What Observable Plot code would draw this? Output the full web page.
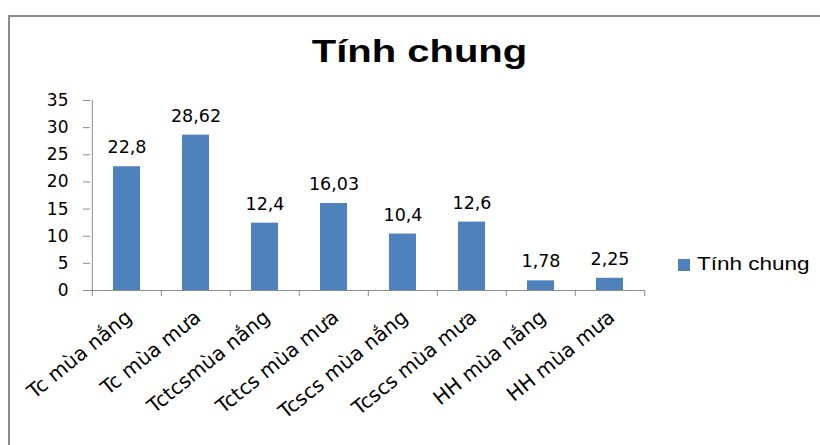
<!DOCTYPE html>
<html>
<head>
<meta charset="utf-8">
<script src="https://cdn.jsdelivr.net/npm/d3@7"></script>
<script src="https://cdn.jsdelivr.net/npm/@observablehq/plot@0.6"></script>
<style>
  html, body { margin: 0; padding: 0; background: #fff; }
  body { width: 820px; height: 445px; overflow: hidden; position: relative; font-family: "Liberation Sans", Arial, sans-serif; }
  #chart { position: absolute; left: 0; top: 0; }
  #frame { position: absolute; left: 8px; top: 15px; width: 900px; height: 500px; border: 2px solid #8c8c8c; box-sizing: border-box; pointer-events: none; }
  #title { position: absolute; left: 0; width: 839px; top: 36px; text-align: center; font-weight: bold; font-size: 31px; line-height: 31px; transform: scaleX(1.29); color: #000; white-space: nowrap; }
  #legend { position: absolute; left: 678px; top: 255px; height: 18px; white-space: nowrap; }
  #legend .sw { position: absolute; left: 0; top: 4px; width: 12px; height: 12px; background: #4F81BD; }
  #legend .lb { position: absolute; left: 19px; top: 0; font-size: 18px; line-height: 18px; transform: scaleX(1.25); transform-origin: left center; color: #000; }
</style>
</head>
<body>
<div id="chart"></div>
<div id="title"></div>
<div id="legend"><div class="sw"></div><div class="lb"></div></div>
<div id="frame"></div>
<script>
const chartTitle = "Tính chung";
const seriesName = "Tính chung";
const categories = ["Tc mùa nắng", "Tc mùa mưa", "Tctcsmùa nắng", "Tctcs mùa mưa", "Tcscs mùa nắng", "Tcscs mùa mưa", "HH mùa nắng", "HH mùa mưa"];
const values = [22.8, 28.62, 12.4, 16.03, 10.4, 12.6, 1.78, 2.25];
const valueLabels = ["22,8", "28,62", "12,4", "16,03", "10,4", "12,6", "1,78", "2,25"];
const yTicks = [0, 5, 10, 15, 20, 25, 30, 35];
const yDomain = [0, 35];

const data = categories.map((c, i) => ({cat: c, value: values[i], label: valueLabels[i]}));

const W = 820, H = 445, mL = 90, mR = 175, mT = 100, mB = 155;
const bw = (W - mL - mR) / categories.length;
const axisGrey = "#8c8c8c";
const barColor = "#4F81BD";

const chart = Plot.plot({
  width: W, height: H,
  marginLeft: mL, marginRight: mR, marginTop: mT, marginBottom: mB,
  style: {background: "transparent", fontFamily: "DejaVu Sans", color: "#000", overflow: "visible"},
  x: {domain: categories, padding: 0, axis: null},
  y: {domain: yDomain, axis: null},
  marks: [
    Plot.barY(data, {x: "cat", y: "value", fill: barColor, insetLeft: 21, insetRight: 21}),
    Plot.ruleY([0], {stroke: axisGrey}),
    Plot.ruleX(categories.slice(0, 1), {dx: -bw / 2, y1: yDomain[0], y2: yDomain[1], stroke: axisGrey}),
    Plot.axisY({ticks: yTicks, tickSize: 7, tickPadding: 15, fontSize: 17, stroke: axisGrey, fill: "#000", label: null}),
    Plot.axisX({ticks: categories, tickSize: 6, tickFormat: () => "", dx: -bw / 2, stroke: axisGrey, label: null}),
    Plot.axisX({ticks: categories.slice(-1), tickSize: 6, tickFormat: () => "", dx: bw / 2, stroke: axisGrey, label: null}),
    Plot.axisX({tickSize: 0, tickRotate: -39, tickPadding: 24, dx: 2, fontSize: 20, fill: "#000", label: null}),
    Plot.text(data, {x: "cat", y: "value", text: "label", dy: -19, fontSize: 17.5, fill: "#000"})
  ]
});
document.getElementById("chart").appendChild(chart);
document.getElementById("title").textContent = chartTitle;
document.querySelector("#legend .lb").textContent = seriesName;
</script>
</body>
</html>
